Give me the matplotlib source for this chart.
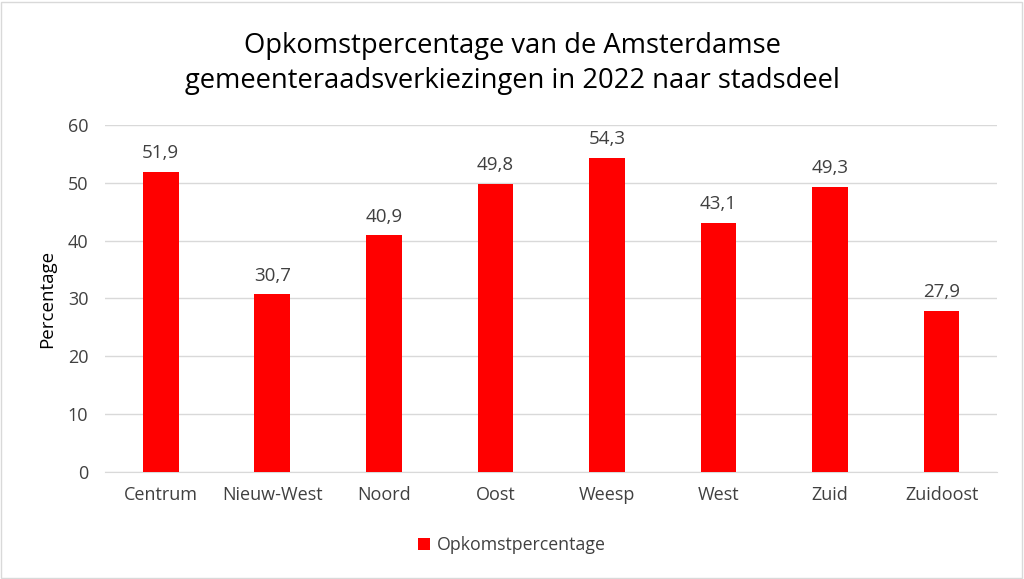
import matplotlib.pyplot as plt
from matplotlib.patches import Rectangle

# Data
stadsdelen = ['Centrum', 'Nieuw-West', 'Noord', 'Oost', 'Weesp', 'West', 'Zuid', 'Zuidoost']
opkomst = [51.9, 30.7, 40.9, 49.8, 54.3, 43.1, 49.3, 27.9]
y_ticks = [0, 10, 20, 30, 40, 50, 60]

plt.rcParams['font.family'] = ['Open Sans', 'DejaVu Sans']

fig = plt.figure(figsize=(10.24, 5.79), dpi=100)
ax = fig.add_axes([0.1025, 0.185, 0.8715, 0.599])

x = range(len(stadsdelen))
bars = ax.bar(x, opkomst, width=0.32, color='#ff0000', label='Opkomstpercentage', zorder=3)

for xi, v in zip(x, opkomst):
    ax.text(xi, v + 1.7, f'{v:.1f}'.replace('.', ','), ha='center', va='bottom',
            fontsize=13.5, color='#404040')

ax.set_xlim(-0.5, len(stadsdelen) - 0.5)
ax.set_ylim(0, 60)
ax.set_yticks(y_ticks)
ax.set_xticks(list(x))
ax.set_xticklabels(stadsdelen)
ax.tick_params(axis='both', length=0, labelsize=13, colors='#404040')
ax.tick_params(axis='x', pad=10)
ax.tick_params(axis='y', pad=12)
ax.grid(axis='y', color='#d9d9d9', linewidth=1, zorder=0)
for s in ['top', 'right', 'left']:
    ax.spines[s].set_visible(False)
ax.spines['bottom'].set_color('#d9d9d9')

ax.set_ylabel('Percentage', fontsize=13.5, color='black', labelpad=8)

fig.suptitle('Opkomstpercentage van de Amsterdamse\ngemeenteraadsverkiezingen in 2022 naar stadsdeel',
             y=0.945, fontsize=19.7, color='black', linespacing=1.32)

fig.legend(loc='center', bbox_to_anchor=(0.5, 0.058), frameon=False, fontsize=12.8,
           handlelength=0.7, handleheight=0.7, handletextpad=0.4, labelcolor='#404040')

fig.patches.append(Rectangle((0.001, 0.002), 0.997, 0.995, transform=fig.transFigure,
                             fill=False, edgecolor='#d9d9d9', linewidth=1))

fig.savefig('out.png', dpi=100, facecolor='white')
